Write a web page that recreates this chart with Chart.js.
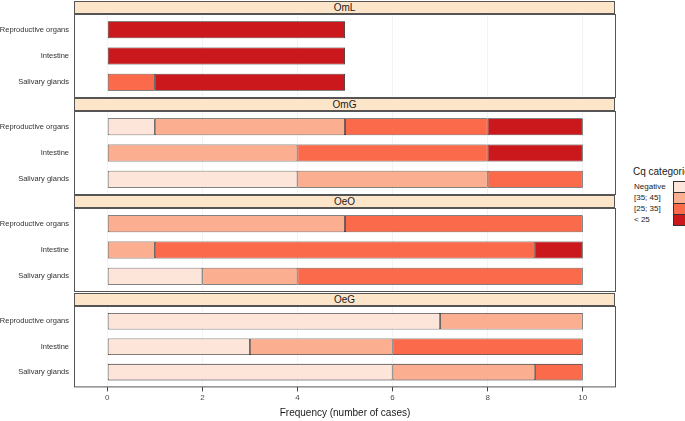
<!DOCTYPE html>
<html><head><meta charset="utf-8">
<script src="https://cdn.jsdelivr.net/npm/chart.js@4.4.1/dist/chart.umd.min.js"></script>
<style>
html,body{margin:0;padding:0;background:#fff;}
#wrap{position:relative;width:685px;height:421px;overflow:hidden;font-family:"Liberation Sans",Arial,sans-serif;}
.strip{position:absolute;left:74px;width:539px;height:11px;background:#fde5ca;border:1px solid #555;font-size:10px;line-height:11px;text-align:center;color:#1a1a1a;}
.pc{position:absolute;left:0;width:616px;}
.pc canvas{display:block;}
#legend{position:absolute;left:633px;top:166px;font-size:8px;color:#1a1a1a;font-family:"Liberation Sans",Arial,sans-serif;}
#legend .t{font-size:10px;position:absolute;left:0;top:0;white-space:nowrap;}
.li{position:absolute;left:1px;white-space:nowrap;}
.key{position:absolute;left:40px;width:14px;height:10px;border:1px solid #333;}
</style></head>
<body><div id="wrap"></div>
<script>
const panels = ["OmL","OmG","OeO","OeG"];
const organs = ["Reproductive organs","Intestine","Salivary glands"];
const cqCategories = ["Negative","[35; 45]","[25; 35]","< 25"];
const cqColors = ["#FEE5D9","#FCAE91","#FB6A4A","#CB181D"];
const xTicks = [0,2,4,6,8,10];
// values per panel: [Negative, [35;45], [25;35], <25] for each organ (top to bottom)
const OmL = [[0,0,0,5],[0,0,0,5],[0,0,1,4]];
const OmG = [[1,4,3,2],[0,4,4,2],[4,4,2,0]];
const OeO = [[0,5,5,0],[0,1,8,1],[2,2,6,0]];
const OeG = [[7,3,0,0],[3,3,4,0],[6,3,1,0]];
const panelData = [OmL,OmG,OeO,OeG];

const stripTops = [1,98,195,293];
const stripH = 13, bodyH = 84;
const wrap = document.getElementById('wrap');
const fam = '"Liberation Sans", Arial';

const borderPlugin = {
  id:'panelBorder',
  afterDraw(chart){
    const a = chart.chartArea, c = chart.ctx;
    c.save(); c.strokeStyle='#555'; c.lineWidth=1;
    c.strokeRect(a.left+0.5, a.top+0.5, a.right-a.left-1, a.bottom-a.top-1);
    c.restore();
  }
};

panels.forEach((name,pi)=>{
  const s = document.createElement('div');
  s.className='strip'; s.style.top=stripTops[pi]+'px'; s.textContent=name;
  wrap.appendChild(s);
  const last = pi===panels.length-1;
  const h = last ? (421-(stripTops[pi]+stripH)) : bodyH;
  const pc = document.createElement('div');
  pc.className='pc'; pc.style.top=(stripTops[pi]+stripH)+'px'; pc.style.height=h+'px';
  const cv = document.createElement('canvas');
  cv.width=616; cv.height=h; cv.style.width='616px'; cv.style.height=h+'px';
  pc.appendChild(cv); wrap.appendChild(pc);
  const d = panelData[pi];
  const datasets = cqCategories.map((cat,ci)=>({
    label:cat,
    data: organs.map((o,oi)=>({x: d[oi][ci]===0?null:d[oi][ci], y: oi+1})),
    backgroundColor:cqColors[ci],
    borderColor:'#222',
    borderWidth:0.8,
    borderSkipped:false,
    barPercentage:0.65,
    categoryPercentage:1
  }));
  new Chart(cv,{
    type:'bar',
    data:{datasets},
    options:{
      indexAxis:'y',
      responsive:false, maintainAspectRatio:false, animation:false,
      layout:{padding:{top:0,left:0,right:0,bottom:last?2:0}},
      plugins:{legend:{display:false},tooltip:{enabled:false}},
      scales:{
        x:{type:'linear',stacked:true,min:-0.7,max:10.7,offset:false,
          afterBuildTicks(sc){sc.ticks = xTicks.map(v=>({value:v}));},
          afterFit(sc){ if(!last) sc.height=0; sc.paddingLeft=0; sc.paddingRight=0; },
          border:{display:false},
          grid:{color:'#f3f3f3',tickColor:'#444',tickLength:last?4:0,drawTicks:last},
          ticks:{display:last,color:'#4d4d4d',font:{size:8,family:fam},padding:2,maxRotation:0},
          title:{display:last,text:'Frequency (number of cases)',color:'#1a1a1a',font:{size:10,family:fam},padding:{top:2,bottom:0}}
        },
        y:{type:'linear',stacked:true,reverse:true,min:0.4,max:3.6,offset:false,grace:0,
          afterBuildTicks(sc){sc.ticks = organs.map((o,i)=>({value:i+1}));},
          afterFit(sc){sc.width=74; sc.paddingTop=0; sc.paddingBottom=0;},
          border:{display:false},
          grid:{display:false,drawTicks:false,tickLength:0},
          ticks:{color:'#333',font:{size:7.5,family:fam},padding:5,
            callback:(v)=>organs[Math.round(v)-1]}
        }
      }
    },
    plugins:[borderPlugin]
  });
});

// legend
const lg = document.createElement('div'); lg.id='legend';
const t = document.createElement('div'); t.className='t'; t.textContent='Cq categories'; lg.appendChild(t);
cqCategories.forEach((c,i)=>{
  const li=document.createElement('div'); li.className='li'; li.style.top=(16+i*11)+'px'; li.textContent=c; lg.appendChild(li);
  const k=document.createElement('div'); k.className='key'; k.style.top=(15+i*11)+'px'; k.style.background=cqColors[i]; lg.appendChild(k);
});
wrap.appendChild(lg);
</script></body></html>
